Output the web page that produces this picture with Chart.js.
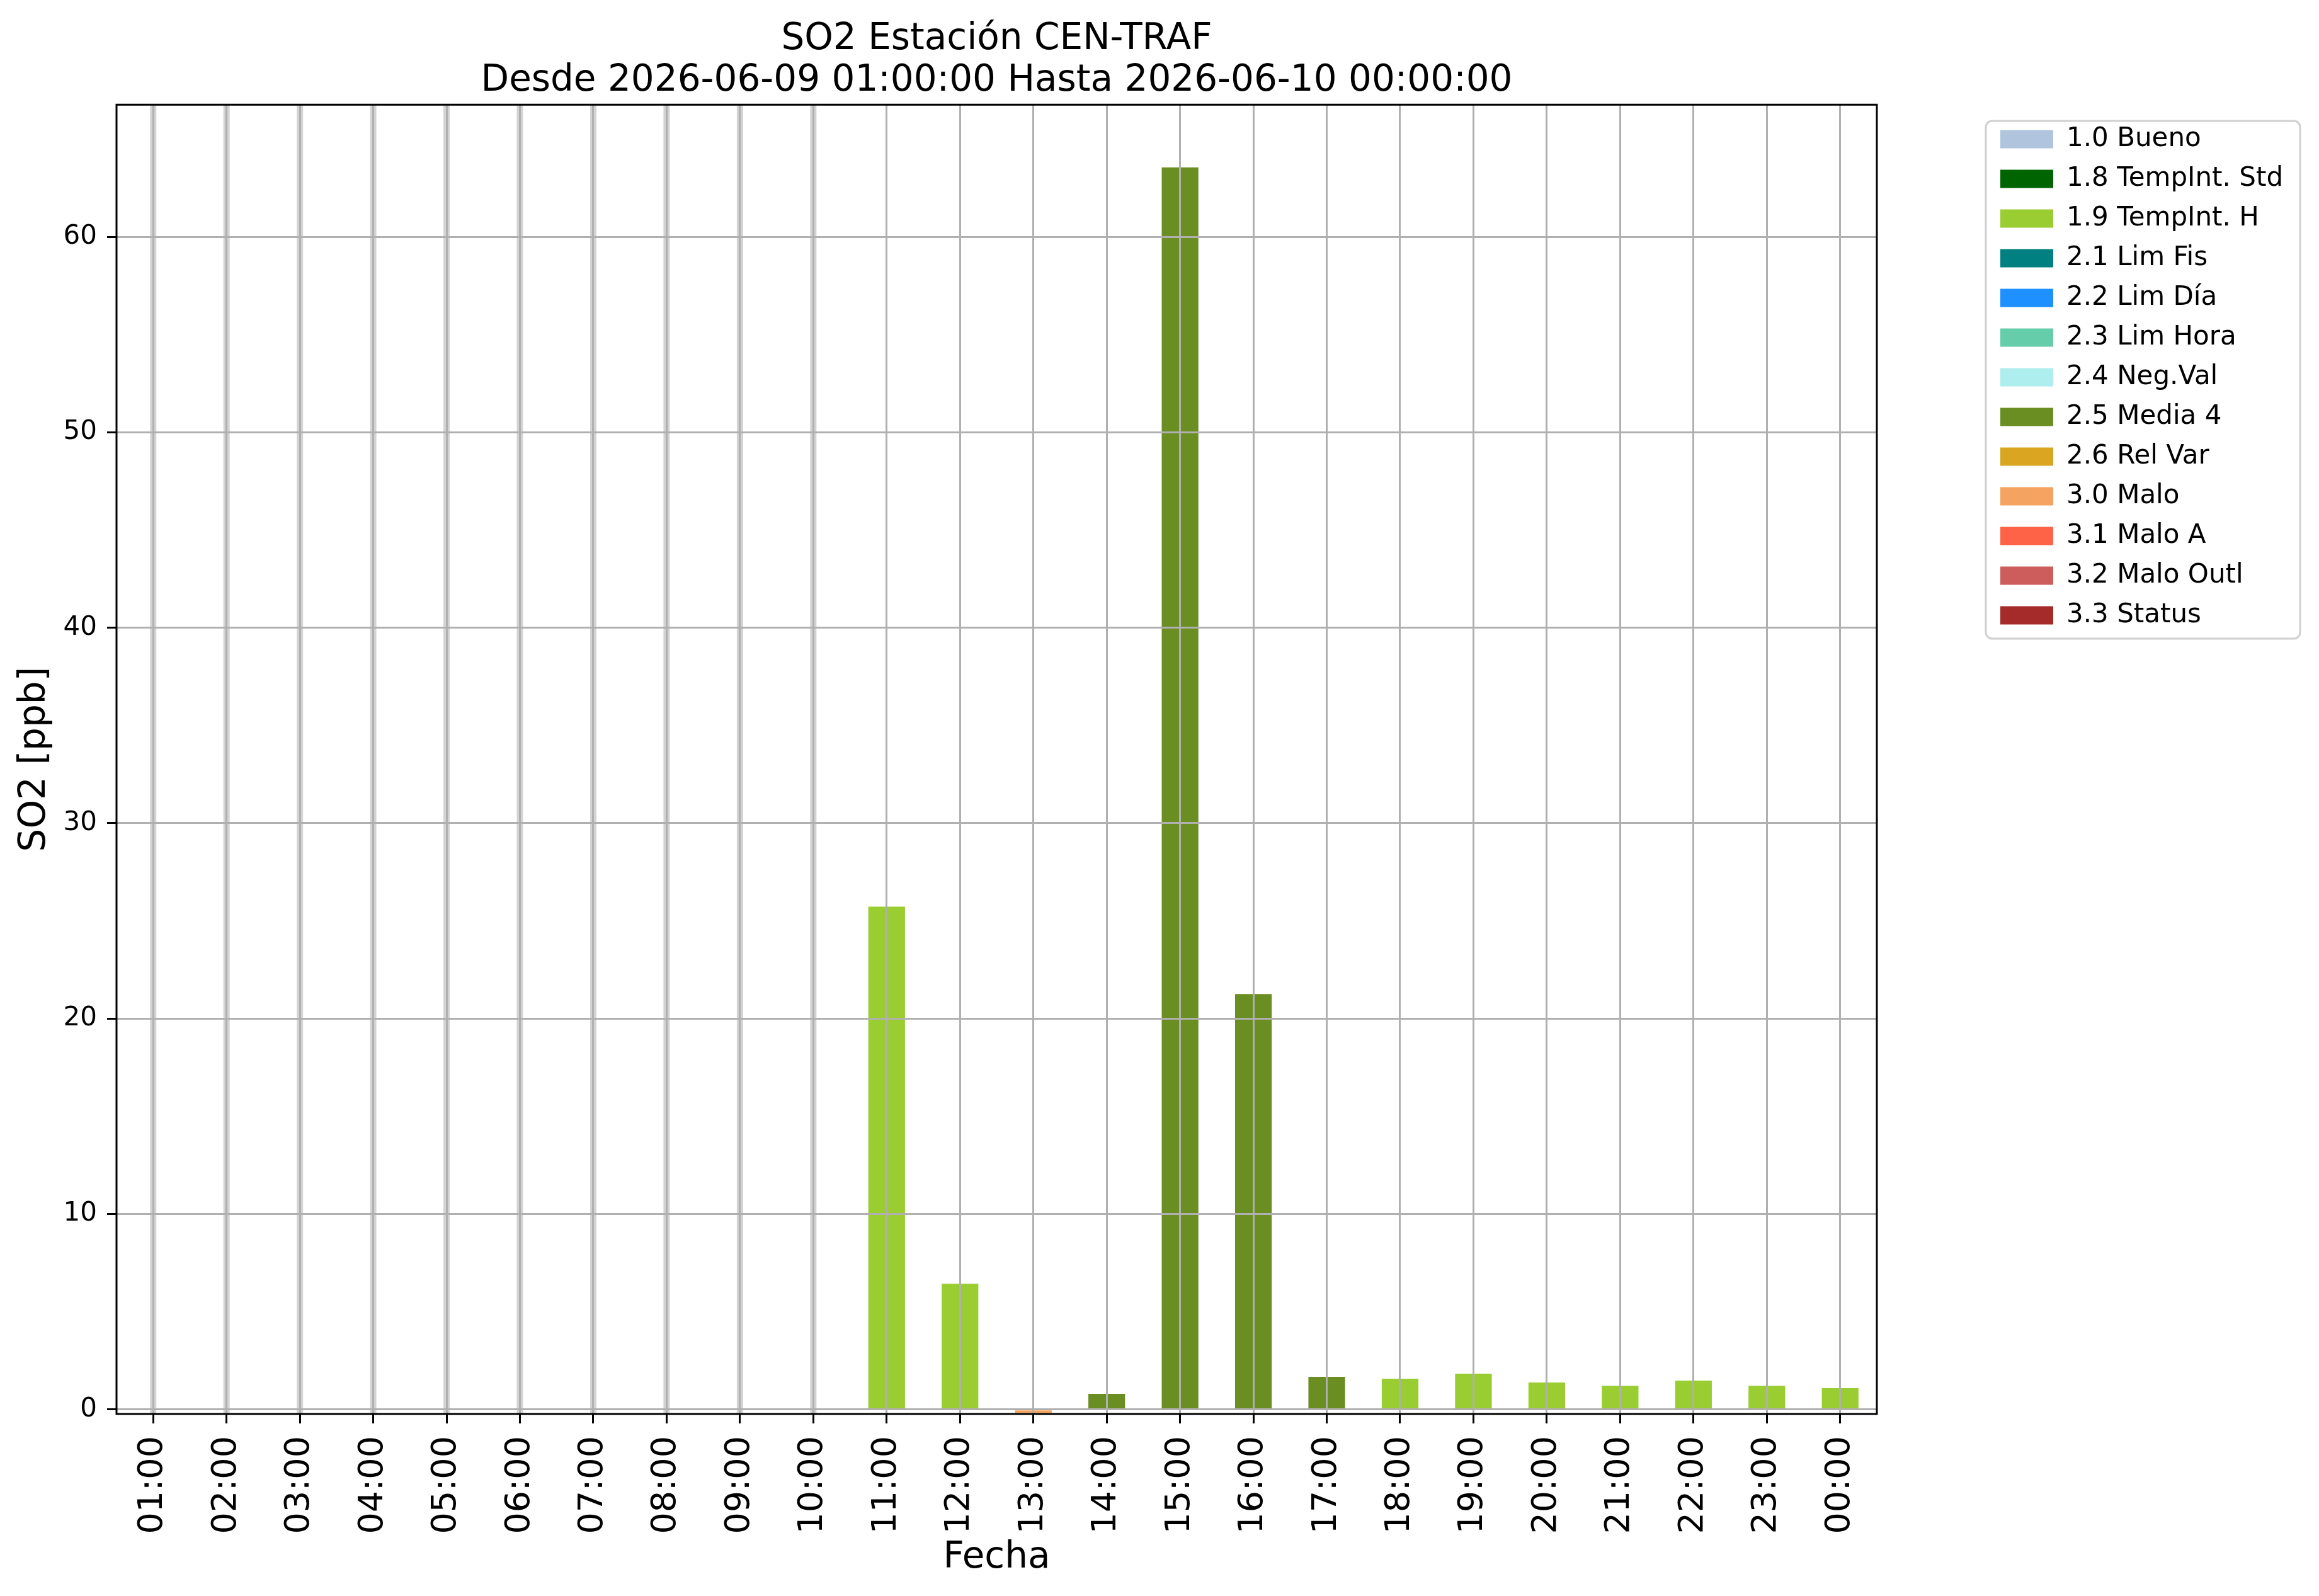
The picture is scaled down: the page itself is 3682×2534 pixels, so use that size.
<!DOCTYPE html>
<html>
<head>
<meta charset="utf-8">
<script src="https://cdn.jsdelivr.net/npm/chart.js@4.4.1/dist/chart.umd.min.js"></script>
<style>
  html, body { margin: 0; padding: 0; background: #fff; }
  #wrap { width: 3682px; height: 2534px; }
</style>
</head>
<body>
<div id="wrap"><canvas id="chart" width="3682" height="2534"></canvas></div>
<script>
// datos
const horas = ['01:00', '02:00', '03:00', '04:00', '05:00', '06:00', '07:00', '08:00', '09:00', '10:00', '11:00', '12:00',
               '13:00', '14:00', '15:00', '16:00', '17:00', '18:00', '19:00', '20:00', '21:00', '22:00', '23:00', '00:00'];
const valores = [null, null, null, null, null, null, null, null, null, null, 25.73, 6.43,
                 -0.18, 0.80, 63.56, 21.26, 1.67, 1.57, 1.83, 1.38, 1.21, 1.47, 1.21, 1.09];
const flagHora = ['', '', '', '', '', '', '', '', '', '', '1.9', '1.9',
                  '3.0', '2.5', '2.5', '2.5', '2.5', '1.9', '1.9', '1.9', '1.9', '1.9', '1.9', '1.9'];
const sinDatos = [true, true, true, true, true, true, true, true, true, true, false, false,
                  false, false, false, false, false, false, false, false, false, false, false, false];

const codigos = ['1.0', '1.8', '1.9', '2.1', '2.2', '2.3', '2.4', '2.5', '2.6', '3.0', '3.1', '3.2', '3.3'];
const nombres = ['Bueno', 'TempInt. Std', 'TempInt. H', 'Lim Fis', 'Lim Día', 'Lim Hora', 'Neg.Val',
                 'Media 4', 'Rel Var', 'Malo', 'Malo A', 'Malo Outl', 'Status'];
const colores = ['#b0c4de', '#006400', '#9acd32', '#008080', '#1e90ff', '#66cdaa', '#afeeee',
                 '#6b8e23', '#daa520', '#f4a460', '#ff6347', '#cd5c5c', '#a52a2a'];

const yTicks = [0, 10, 20, 30, 40, 50, 60];
const yMin = -0.235;
const yMax = 66.77;

Chart.defaults.font.family = "'DejaVu Sans', sans-serif";
Chart.defaults.color = '#000';

const datasets = codigos.map((c, k) => ({
    label: c + ' ' + nombres[k],
    data: valores.map((v, i) => flagHora[i] === c ? v : null),
    backgroundColor: colores[k],
    borderWidth: 0,
    barPercentage: 0.5,
    categoryPercentage: 1,
    grouped: false
}));

// horas sin dato: franja gris de arriba a abajo
datasets.push({
    label: 'sin datos',
    data: sinDatos.map(s => s ? [yMin, yMax] : null),
    backgroundColor: '#d3d3d3',
    borderWidth: 0,
    barPercentage: 0.086,
    categoryPercentage: 1,
    grouped: false
});

const fondo = {
    id: 'fondo',
    beforeDraw(chart) {
        const ctx = chart.ctx;
        ctx.save();
        ctx.fillStyle = '#fff';
        ctx.fillRect(0, 0, chart.width, chart.height);
        ctx.restore();
    }
};

// rejilla por encima de las barras, como en matplotlib
const rejillaEncima = {
    id: 'rejillaEncima',
    afterDatasetsDraw(chart) {
        const area = chart.chartArea;
        chart.scales.x.drawGrid(area);
        chart.scales.y.drawGrid(area);
        const ctx = chart.ctx;
        ctx.save();
        ctx.strokeStyle = '#000';
        ctx.lineWidth = 3;
        ctx.strokeRect(area.left, area.top, area.right - area.left, area.bottom - area.top);
        ctx.restore();
    }
};

const marcoLeyenda = {
    id: 'marcoLeyenda',
    afterLayout(chart) {
        const lg = chart.legend;
        lg.left = 3155;
        lg.top = 179;
        lg.right = chart.width;
        lg.width = lg.right - lg.left;
    },
    afterDraw(chart) {
        const ctx = chart.ctx;
        const x = 3153, y = 192, w = 499, h = 822, r = 10;
        ctx.save();
        ctx.strokeStyle = '#d0d0d0';
        ctx.lineWidth = 3;
        ctx.beginPath();
        ctx.roundRect(x, y, w, h, r);
        ctx.stroke();
        ctx.restore();
    }
};

new Chart(document.getElementById('chart'), {
    type: 'bar',
    data: {
        labels: horas,
        datasets: datasets
    },
    options: {
        responsive: false,
        animation: false,
        events: [],
        layout: {
            padding: { left: 0, top: 0, bottom: 0, right: 222 }
        },
        plugins: {
            title: {
                display: true,
                fullSize: false,
                text: ['SO2 Estación CEN-TRAF', 'Desde 2026-06-09 01:00:00 Hasta 2026-06-10 00:00:00'],
                color: '#000',
                font: { size: 58, weight: 'normal', lineHeight: 1.14 },
                padding: { top: 30, bottom: 4 }
            },
            legend: {
                position: 'right',
                align: 'start',
                labels: {
                    boxWidth: 84,
                    boxHeight: 29,
                    padding: 21,
                    color: '#000',
                    font: { size: 42 },
                    filter: item => item.text !== 'sin datos'
                }
            },
            tooltip: { enabled: false }
        },
        scales: {
            x: {
                offset: true,
                grid: { offset: false, color: '#b0b0b0', lineWidth: 3, tickColor: '#000', tickWidth: 3, tickLength: 15 },
                border: { display: false },
                ticks: { font: { size: 54 }, color: '#000', minRotation: 90, maxRotation: 90, padding: 20, autoSkip: false },
                title: { display: true, text: 'Fecha', color: '#000', font: { size: 58 }, padding: { top: 0, bottom: 25 } },
                afterFit(scale) { scale.height = 289; }
            },
            y: {
                min: yMin,
                max: yMax,
                afterBuildTicks(axis) { axis.ticks = yTicks.map(v => ({ value: v })); },
                grid: { color: '#b0b0b0', lineWidth: 3, tickColor: '#000', tickWidth: 3, tickLength: 15 },
                border: { display: false },
                ticks: { font: { size: 42 }, color: '#000', padding: 16 },
                title: { display: true, text: 'SO2 [ppb]', color: '#000', font: { size: 58 }, padding: { top: 21, bottom: 0 } },
                afterFit(scale) { scale.width = 185; }
            }
        }
    },
    plugins: [fondo, rejillaEncima, marcoLeyenda]
});
</script>
</body>
</html>
